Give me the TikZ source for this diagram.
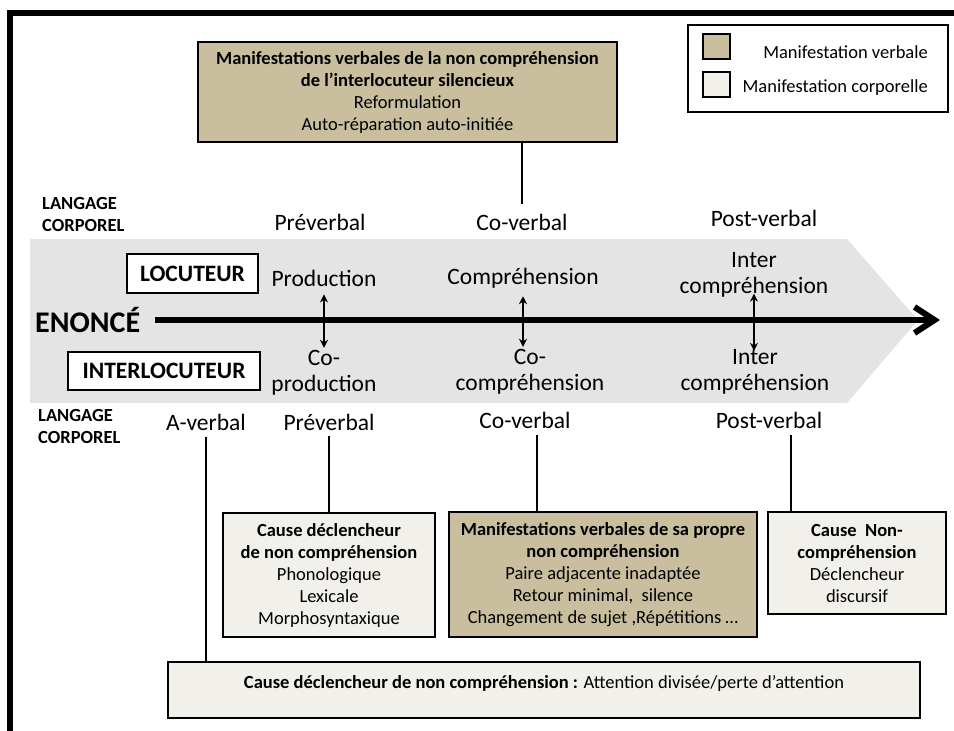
\documentclass[tikz,border=0pt]{standalone}
\usepackage{fontspec}
\setmainfont{Carlito}
\usetikzlibrary{arrows.meta}

\definecolor{verbal}{HTML}{C9BF9E}
\definecolor{corpor}{HTML}{F2F0EA}
\definecolor{bandgray}{HTML}{E4E4E4}

\newcommand{\boxfont}{\fontsize{18.5}{22}\selectfont}
\newcommand{\midfont}{\fontsize{23.5}{26}\selectfont}

\begin{document}
\begin{tikzpicture}[x=1pt,y=-1pt,
    every node/.style={inner sep=2pt},
    mbox/.style={draw, line width=2.5pt, align=center, font=\boxfont, inner sep=0pt},
    verbbox/.style={mbox, fill=verbal},
    corpbox/.style={mbox, fill=corpor},
    rolebox/.style={draw, line width=2.5pt, fill=white, font=\bfseries\midfont},
    midlabel/.style={align=center, font=\midfont},
    sidelabel/.style={align=left, anchor=west, font=\bfseries\boxfont},
    joinline/.style={line width=2pt},
    exchange/.style={line width=2pt, {Stealth[length=8pt,width=8pt]}-{Stealth[length=8pt,width=8pt]}}]
  \useasboundingbox (0,0) rectangle (954,731);

  % frame and band
  \draw[line width=5.5pt] (10,731) -- (10,13) -- (954,13);
  \fill[bandgray] (30,239) -- (847,239) -- (918,320) -- (847,403) -- (30,403) -- cycle;

  % legend
  \node[draw, line width=2.5pt, minimum width=260pt, minimum height=87pt] (legend) at (818,68.5) {};
  \node[draw, line width=2.5pt, fill=verbal, minimum width=27pt, minimum height=25pt] (sqverb) at (716.5,46.5) {};
  \node[draw, line width=2.5pt, fill=corpor, minimum width=27pt, minimum height=25pt] (sqcorp) at (716.5,84.5) {};
  \node[anchor=east, font=\boxfont] (txverb) at (930,52) {Manifestation verbale};
  \node[anchor=east, font=\boxfont] (txcorp) at (930,88) {Manifestation corporelle};

  % top box
  \node[verbbox, minimum width=419pt, minimum height=100pt] (silence) at (407.5,92)
    {\textbf{Manifestations verbales de la non compréhension}\\\textbf{de l’interlocuteur silencieux}\\Reformulation\\Auto-réparation auto-initiée};

  % upper labels
  \node[sidelabel] (langU) at (40,214) {LANGAGE\\CORPOREL};
  \node[midlabel] (preU) at (320,222) {Préverbal};
  \node[midlabel] (coU) at (522,222) {Co-verbal};
  \node[midlabel] (postU) at (764,218) {Post-verbal};
  \draw[joinline, shorten >=8pt] (silence.south -| coU) -- (coU.north);

  % speaker roles and axis
  \node[rolebox, minimum width=131pt, minimum height=39pt] (loc) at (192.5,273.5) {LOCUTEUR};
  \node[rolebox, minimum width=192pt, minimum height=38pt] (interloc) at (164,371) {INTERLOCUTEUR};
  \node[anchor=west, inner sep=0pt, font=\bfseries\fontsize{30}{34}\selectfont] (enonce) at (35,320) {ENONCÉ};
  \coordinate (axisend) at (940,320);
  \draw[line width=6pt, shorten <=15pt, -{Straight Barb[length=20pt,width=26pt]}] (enonce.east) -- (axisend);

  % middle labels
  \node[midlabel] (prod) at (324,278) {Production};
  \node[midlabel] (compU) at (523,278) {Compréhension};
  \node[midlabel] (interU) at (754,275) {Inter\\compréhension};
  \node[midlabel] (coprod) at (324,372.5) {Co-\\production};
  \node[midlabel] (cocomp) at (530,371.5) {Co-\\compréhension};
  \node[midlabel] (interL) at (755,371.5) {Inter\\compréhension};
  \draw[exchange, shorten <=6pt] (prod.south) -- (prod.south |- coprod.north);
  \draw[exchange, shorten <=6pt] (compU.south) -- (compU.south |- cocomp.north);
  \draw[exchange, shorten <=-6pt, shorten >=-4pt] (interU.south) -- (interU.south |- interL.north);

  % lower labels
  \node[sidelabel] (langL) at (36,426) {LANGAGE\\CORPOREL};
  \node[midlabel] (aV) at (206,422) {A-verbal};
  \node[midlabel] (preL) at (329,422) {Préverbal};
  \node[midlabel] (coL) at (525,420) {Co-verbal};
  \node[midlabel] (postL) at (769,420) {Post-verbal};

  % lower boxes
  \node[corpbox, minimum width=212pt, minimum height=124pt] (cause) at (329,575)
    {\textbf{Cause déclencheur}\\\textbf{de non compréhension}\\Phonologique\\Lexicale\\Morphosyntaxique};
  \node[verbbox, minimum width=308pt, minimum height=125pt] (propre) at (603,574.5)
    {\textbf{Manifestations verbales de sa propre}\\\textbf{non compréhension}\\Paire adjacente inadaptée\\Retour minimal,~ silence\\Changement de sujet ,Répétitions …};
  \node[corpbox, minimum width=178pt, minimum height=102pt] (discours) at (857,563)
    {\textbf{Cause~ Non-}\\\textbf{compréhension}\\Déclencheur\\discursif};
  \node[corpbox, minimum width=752pt, minimum height=56pt, text height=13pt, text depth=17pt] (attention) at (544,690)
    {\textbf{Cause déclencheur de non compréhension :} Attention divisée/perte d’attention};

  % connectors to boxes
  \draw[joinline, shorten <=5pt] (aV.south) -- (aV.south |- attention.north);
  \draw[joinline, shorten <=4pt] (preL.south) -- (preL.south |- cause.north);
  \draw[joinline, shorten <=5pt] ([xshift=12pt]coL.south) -- ([xshift=12pt]coL.south |- propre.north);
  \draw[joinline, shorten <=5pt] ([xshift=22pt]postL.south) -- ([xshift=22pt]postL.south |- discours.north);
\end{tikzpicture}
\end{document}
